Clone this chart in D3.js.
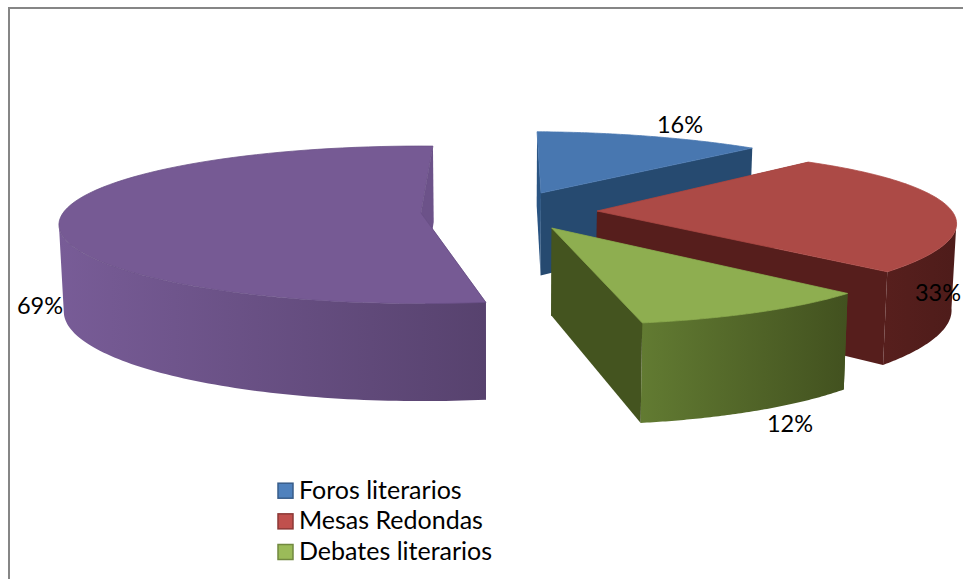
<!DOCTYPE html>
<html>
<head>
<meta charset="utf-8">
<script src="https://cdn.jsdelivr.net/npm/d3@7"></script>
<style>
html, body { margin: 0; padding: 0; background: #fff; overflow: hidden; }
text { font-family: Lato, "Open Sans", sans-serif; fill: #000; }
</style>
</head>
<body>
<svg id="chart" width="963" height="579"></svg>
<script>
var categories = ['Foros literarios', 'Mesas Redondas', 'Debates literarios'];
var values = [16, 33, 12, 69];
var percent_labels = ['16%', '33%', '12%', '69%'];

// colours per slice: top face, cut faces, wall gradient left/right
var top_colors = ['#4877b0', '#ac4a46', '#8eae50', '#765a94'];
var top_strokes = ['#4877b0', '#ac4a46', '#8eae50', '#684f85'];
var strip_colors = ['#2a5482', '#561e1c', '#44541f', '#6c5289'];
var end_colors = ['#264a70', '#561e1c', '#44541f', '#6c5289'];
var wall_left = ['#264a70', '#571f1d', '#627b32', '#785c97'];
var wall_right = ['#264a70', '#4e1c1a', '#42511f', '#57426e'];
var legend_colors = ['#4f81bd', '#c0504d', '#9bbb59'];
var legend_borders = ['#385d8a', '#8c3836', '#71893f'];

// each slice is exploded and seen in perspective, so each has its own projection
var layout = [
	{ax: 541, ay: 193, rx: 357, ry: 76, k: 0.24, shx: -18.6, shy: 0, lx: 680, ly: 133},
	{ax: 597, ay: 211, rx: 347, ry: 74.5, k: 0.24, shx: -8, shy: -7.9, lx: 938, ly: 301},
	{ax: 551.7, ay: 228, rx: 345, ry: 73.4, k: 0.24, shx: -16, shy: -1, lx: 790, ly: 432},
	{ax: 421, ay: 213, rx: 358, ry: 77, k: 0.15, shx: 0, shy: 0, lx: 40, ly: 314}
];

var start_angle = 2.2 * Math.PI / 180;
var pie = d3.pie().sort(null).startAngle(start_angle).endAngle(start_angle + 2 * Math.PI);
var arcs = pie(values);

var svg = d3.select('#chart');
var defs = svg.append('defs');

// how far the bottom face drops, by height on the screen
var depth = d3.scaleLinear().domain([146, 322]).range([76, 100]);
var drift = d3.scaleLinear().domain([58, 955]).range([4.9, -5]);
var line = d3.line();

function project(i, angle) {
	var l = layout[i];
	var s = Math.sin(angle), c = Math.cos(angle);
	var w = 1 + l.k * c;
	return [l.ax + (l.rx * s + l.shx * c) / w, l.ay + (-l.ry * c + l.shy * s) / w];
}

function lower(p) {
	return [p[0] + drift(p[0]), p[1] + depth(p[1])];
}

function arc_points(i, a0, a1) {
	var n = 80;
	return d3.range(n + 1).map(function (j) {
		return project(i, a0 + (a1 - a0) * j / n);
	});
}

// chart frame
svg.append('path')
	.attr('d', line([[9, 579], [9, 8], [963, 8]]))
	.attr('fill', 'none')
	.attr('stroke', '#868686')
	.attr('stroke-width', 2);

// purple goes first, then the others from back to front
var draw_order = [3, 0, 1, 2];
draw_order.forEach(function (i) {
	var a = arcs[i];
	var l = layout[i];
	var apex = [l.ax, l.ay];
	var first = project(i, a.startAngle);
	var last = project(i, a.endAngle);
	var rim = arc_points(i, a.startAngle, a.endAngle);
	var g = svg.append('g');

	var grad = defs.append('linearGradient').attr('id', 'wall' + i);
	grad.append('stop').attr('offset', '0%').attr('stop-color', wall_left[i]);
	grad.append('stop').attr('offset', '100%').attr('stop-color', wall_right[i]);

	g.append('path')
		.attr('d', line([first, apex, lower(apex), lower(first)]) + 'Z')
		.attr('fill', strip_colors[i]);

	// only the part of the rim that faces the viewer gets a wall
	var edge = Math.acos(-l.k);
	var w0 = Math.max(a.startAngle, edge);
	var w1 = Math.min(a.endAngle, 2 * Math.PI - edge);
	if (w1 > w0) {
		var front = arc_points(i, w0, w1);
		g.append('path')
			.attr('d', line(front.concat(front.slice().reverse().map(lower))) + 'Z')
			.attr('fill', 'url(#wall' + i + ')');
	}

	g.append('path')
		.attr('d', line([apex, last, lower(last), lower(apex)]) + 'Z')
		.attr('fill', end_colors[i]);

	g.append('path')
		.attr('d', line([apex].concat(rim)) + 'Z')
		.attr('fill', top_colors[i])
		.attr('stroke', top_strokes[i])
		.attr('stroke-width', 0.75);
});

// data labels
svg.selectAll('.pct')
	.data(percent_labels)
	.enter().append('text')
	.attr('class', 'pct')
	.attr('x', function (d, i) { return layout[i].lx; })
	.attr('y', function (d, i) { return layout[i].ly; })
	.attr('text-anchor', 'middle')
	.attr('font-size', 23.5)
	.text(function (d) { return d; });

// legend, the list runs off the bottom of the picture in the original
var legend_y = d3.scalePoint().domain(categories).range([490.7, 552]);
var legend = svg.selectAll('.legend')
	.data(categories)
	.enter().append('g')
	.attr('class', 'legend')
	.attr('transform', function (d) { return 'translate(278,' + legend_y(d) + ')'; });
legend.append('rect')
	.attr('x', 0)
	.attr('y', -7.5)
	.attr('width', 15)
	.attr('height', 15)
	.attr('fill', function (d, i) { return legend_colors[i]; })
	.attr('stroke', function (d, i) { return legend_borders[i]; })
	.attr('stroke-width', 1.5);
legend.append('text')
	.attr('x', 21)
	.attr('y', 8)
	.attr('font-size', 25)
	.text(function (d) { return d; });
</script>
</body>
</html>
